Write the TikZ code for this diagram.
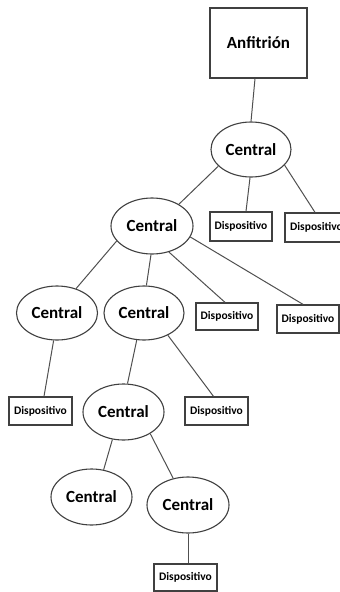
\documentclass[tikz,border=0pt]{standalone}
\usepackage{fontspec}
\setmainfont{Carlito}
\usetikzlibrary{shapes.geometric,calc}
\definecolor{edge}{HTML}{404040}
\definecolor{wire}{HTML}{505050}
\tikzset{
  hostbox/.style={draw=edge, line width=1.3pt, minimum width=97pt, minimum height=70pt,
    inner sep=0pt, font=\fontsize{17}{20}\selectfont\bfseries},
  hub/.style={ellipse, draw=edge, line width=1.1pt, minimum width=81pt, minimum height=56pt,
    inner sep=0pt, font=\fontsize{17}{20}\selectfont\bfseries},
  dev/.style={draw=edge, line width=1.3pt, minimum width=62pt, minimum height=28pt,
    inner sep=0pt, font=\fontsize{11.5}{13}\selectfont\bfseries},
  link/.style={draw=wire, line width=1pt}
}
\begin{document}
\begin{tikzpicture}[x=1pt,y=-1pt]
\fill[white] (0,0) rectangle (340,592);
\useasboundingbox (0,0) rectangle (340,592);

% host
\node[hostbox] (anf) at (258.5,43) {Anfitrión};

% hubs
\node[hub, minimum width=80pt, minimum height=55pt] (c1) at (251,149.5) {Central};
\node[hub, minimum width=82pt] (c2) at (152,226) {Central};
\node[hub, minimum height=54pt] (c3) at (57,313) {Central};
\node[hub, minimum width=80pt, minimum height=54pt] (c4) at (144,313) {Central};
\node[hub] (c5) at (123.5,412) {Central};
\node[hub] (c6) at (91.5,497) {Central};
\node[hub, minimum width=82pt] (c7) at (188,505) {Central};

% devices
\node[dev, minimum height=29pt] (b1) at (241,226.5) {Dispositivo};
\node[dev, minimum width=63pt, minimum height=29pt] (b2) at (316.5,227.5) {Dispositivo};
\node[dev, minimum height=27pt] (b3) at (227,316.5) {Dispositivo};
\node[dev] (b4) at (308,319) {Dispositivo};
\node[dev, minimum width=63pt] (b5) at (40.5,411) {Dispositivo};
\node[dev, minimum width=63pt] (b6) at (216.5,411) {Dispositivo};
\node[dev, minimum width=63pt, minimum height=27pt] (b7) at (185.5,577.5) {Dispositivo};

% links
\draw[link] ($(anf.south)+(-3.5,0)$) -- (c1.north);
\draw[link] (c1.268) -- ($(b1.north)+(5,0)$);
\draw[link] (c1.335) -- ($(b2.north)+(-1.5,0)$);
\draw[link] (c1.207) -- (c2.39);
\draw[link] (c2.203) -- (c3.52);
\draw[link] (c2.268) -- (c4.85);
\draw[link] (c2.303) -- ($(b3.north)+(-2,0)$);
\draw[link] (c2.344) -- ($(b4.north)+(-5,0)$);
\draw[link] (c3.263) -- ($(b5.north)+(3.5,0)$);
\draw[link] (c4.255) -- (c5.82);
\draw[link] (c4.317) -- ($(b6.north)+(-3,0)$);
\draw[link] (c5.248) -- (c6.66);
\draw[link] (c5.321) -- (c7.119);
\draw[link] (c7.south) -- ($(b7.north)+(2.5,0)$);
\end{tikzpicture}
\end{document}
